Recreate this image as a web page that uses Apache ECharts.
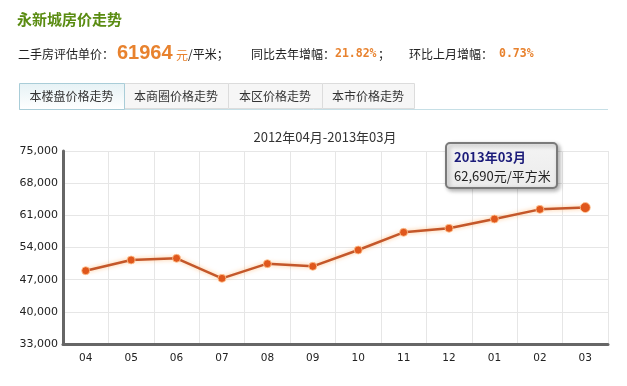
<!DOCTYPE html>
<html><head><meta charset="utf-8">
<script src="https://cdn.jsdelivr.net/npm/echarts@6/dist/echarts.min.js"></script>
<style>html,body{margin:0;padding:0;background:#fff;}#c{width:627px;height:386px;}</style>
</head><body><div id="c"></div>
<script>
const categories = ['04','05','06','07','08','09','10','11','12','01','02','03'];
const prices = [48950, 51280, 51650, 47290, 50480, 49900, 53450, 57300, 58180, 60200, 62300, 62690];
const yTicks = {min: 33000, max: 75000, interval: 7000};
const tabs = ['本楼盘价格走势','本商圈价格走势','本区价格走势','本市价格走势'];
const periodLabel = '2012年04月-2013年03月';
const tipTitle = '2013年03月';
const tipValue = '62,690元/平方米';

const CJK = '"Noto Sans CJK SC", "DejaVu Sans", sans-serif';
const NUM = '"DejaVu Sans", Verdana, sans-serif';
const chart = echarts.init(document.getElementById('c'));

const tabX = [19, 124, 228, 322, 414];
const tabGraphics = [];
tabs.forEach((t, i) => {
  const active = i === 0;
  tabGraphics.push({
    type: 'rect', shape: {x: tabX[i] + 0.5, y: 83.5, width: tabX[i+1] - tabX[i], height: active ? 26 : 25},
    style: {
      fill: active ? new echarts.graphic.LinearGradient(0,0,0,1,[{offset:0,color:'#e6f2f5'},{offset:1,color:'#ffffff'}]) : '#f6f6f6',
      stroke: active ? '#a9cdd8' : '#dcdcdc', lineWidth: 1
    }, z: active ? 12 : 10
  });
  tabGraphics.push({
    type: 'text', x: (tabX[i] + tabX[i+1]) / 2, y: 96,
    style: {text: t, font: '12px ' + CJK, fill: '#333', align: 'center', verticalAlign: 'middle'}, z: 13
  });
});

function txt(x, y, s, font, color, z) {
  return {type: 'text', x: x, y: y, z: z || 5, style: {text: s, font: font, fill: color, verticalAlign: 'middle'}};
}
const ORANGE = '#e8822e';

chart.setOption({
  animation: false,
  title: {
    text: periodLabel, left: 320, top: 126, textAlign: 'center',
    textStyle: {fontFamily: CJK, fontSize: 13, fontWeight: 'normal', color: '#333'}
  },
  grid: {left: 63, right: 19, top: 151, bottom: 42},
  xAxis: {
    type: 'category', data: categories, boundaryGap: true,
    axisLine: {lineStyle: {color: '#666', width: 3}},
    axisTick: {show: false},
    splitLine: {show: true, interval: 0, lineStyle: {color: '#e6e6e6'}},
    axisLabel: {interval: 0, color: '#222', fontFamily: NUM, fontSize: 10.5, margin: 9}
  },
  yAxis: {
    type: 'value', min: yTicks.min, max: yTicks.max, interval: yTicks.interval,
    axisLine: {show: true, lineStyle: {color: '#666', width: 3}},
    axisTick: {show: false},
    splitLine: {lineStyle: {color: '#e6e6e6'}},
    axisLabel: {color: '#222', fontFamily: NUM, fontSize: 11, margin: 5,
      formatter: v => v.toLocaleString('en-US')}
  },
  series: [{
    type: 'line', data: prices.map((v, i) => i === prices.length - 1 ? {value: v, symbolSize: 10} : v),
    symbol: 'circle', symbolSize: 8,
    lineStyle: {color: '#c4572a', width: 2.5, shadowColor: 'rgba(255,170,90,0.7)', shadowBlur: 4},
    itemStyle: {color: '#e0571c', borderColor: 'rgba(255,200,150,0.8)', borderWidth: 1}
  }],
  graphic: [
    txt(17, 19, '永新城房价走势', 'bold 15px ' + CJK, '#5a8c12'),
    txt(18, 54, '二手房评估单价：', '12px ' + CJK, '#222'),
    txt(117, 53, '61964', 'bold 20px "Liberation Sans", Arial, sans-serif', ORANGE),
    txt(176, 55, '元', '12px ' + CJK, ORANGE),
    txt(188, 54, '/平米；', '12px ' + CJK, '#222'),
    txt(251, 54, '同比去年增幅：', '12px ' + CJK, '#222'),
    txt(335, 54, '21.82%', 'bold 11.5px "DejaVu Sans Mono", monospace', ORANGE),
    txt(378, 54, '；', '12px ' + CJK, '#222'),
    txt(409, 54, '环比上月增幅：', '12px ' + CJK, '#222'),
    txt(499, 54, '0.73%', 'bold 11.5px "DejaVu Sans Mono", monospace', ORANGE),
    {type: 'line', shape: {x1: 19, y1: 109.5, x2: 608, y2: 109.5}, style: {stroke: '#c6dfe6', lineWidth: 1}, z: 11},
    ...tabGraphics,
    {type: 'rect', shape: {x: 446, y: 143, width: 111, height: 45, r: 4},
      style: {fill: new echarts.graphic.LinearGradient(0,0,0,1,[{offset:0,color:'#f4f4f4'},{offset:1,color:'#ebebeb'}]),
        stroke: '#7a7a7a', lineWidth: 2, shadowColor: 'rgba(0,0,0,0.3)', shadowBlur: 4, shadowOffsetX: 2, shadowOffsetY: 2}, z: 20},
    txt(454, 157, tipTitle, 'bold 13px ' + CJK, '#1c1c7a', 21),
    txt(454, 176, tipValue, '13px ' + CJK, '#222', 21)
  ]
});
</script></body></html>
